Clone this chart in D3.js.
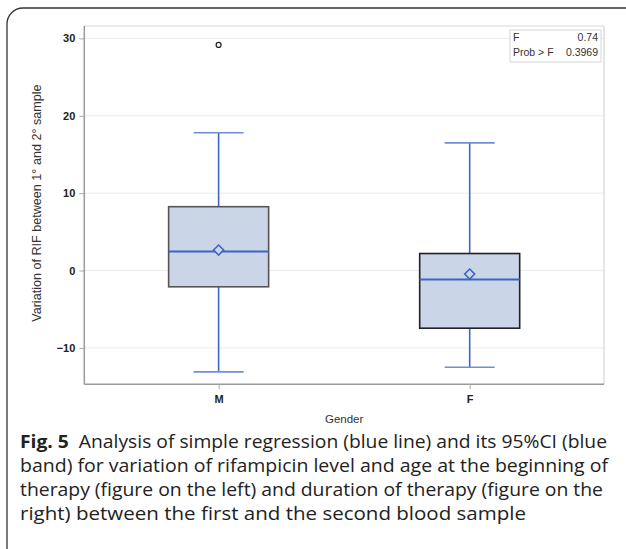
<!DOCTYPE html>
<html><head><meta charset="utf-8">
<script src="https://cdn.jsdelivr.net/npm/d3@7/dist/d3.min.js"></script>
<style>body{margin:0;background:#fff}svg{display:block}</style>
</head><body>
<svg id="c" width="626" height="549"></svg>
<script>
const categories = ["M", "F"];
const whiskerLow = [-13.1, -12.5];
const q1 = [-2.1, -7.45];
const median = [2.45, -1.15];
const q3 = [8.25, 2.2];
const whiskerHigh = [17.8, 16.5];
const means = [2.65, -0.45];
const outliers = [{cat: "M", v: 29.15}];
const yTicks = [-10, 0, 10, 20, 30];
const statLabels = ["F", "Prob > F"];
const statValues = ["0.74", "0.3969"];
const captionLines = [
  ["Fig. 5", "  Analysis of simple regression (blue line) and its 95%CI (blue"],
  ["", "band) for variation of rifampicin level and age at the beginning of"],
  ["", "therapy (figure on the left) and duration of therapy (figure on the"],
  ["", "right) between the first and the second blood sample"]
];
const captionWidths = [587, 588, 583, 506];

const svg = d3.select("#c");
const L = 84.3, R = 604, T = 26, B = 384.3;

// outer frame
svg.append("rect").attr("x", 7).attr("y", 8).attr("width", 720).attr("height", 560)
  .attr("rx", 16).attr("fill", "none").attr("stroke", "#333").attr("stroke-width", 1.3);

const y = d3.scaleLinear().domain([-14.7, 31.6]).range([B, T]);
const x = d3.scalePoint().domain(categories).range([L, R]).padding(0.535);

// gridlines
svg.append("g").selectAll("line").data(yTicks).join("line")
  .attr("x1", L).attr("x2", R).attr("y1", d => y(d)).attr("y2", d => y(d))
  .attr("stroke", "#ebebeb").attr("stroke-width", 1);

// frame of plot
svg.append("line").attr("x1", L).attr("x2", R).attr("y1", T).attr("y2", T).attr("stroke", "#d8d8d8");
svg.append("line").attr("x1", R).attr("x2", R).attr("y1", T).attr("y2", B).attr("stroke", "#d8d8d8").attr("stroke-width", 1.3);

// axes
const yAxis = svg.append("g").attr("transform", `translate(${L},0)`)
  .call(d3.axisLeft(y).tickValues(yTicks).tickSize(5).tickPadding(4));
const xAxis = svg.append("g").attr("transform", `translate(0,${B})`)
  .call(d3.axisBottom(x).tickSize(5).tickPadding(6));
[yAxis, xAxis].forEach(a => {
  a.select(".domain").attr("stroke", "#9a9a9a").attr("stroke-width", 1.5);
  a.selectAll(".tick line").attr("stroke", "#aaa");
  a.selectAll(".tick text").attr("fill", "#222").attr("font-family", "Liberation Sans, Arial, sans-serif")
    .attr("font-size", 11).attr("font-weight", "bold");
});
yAxis.select(".domain").attr("d", `M0,${T}V${B}`);
xAxis.select(".domain").attr("d", `M${L},0H${R}`);

const boxW = 100, capW = 50;
const g = svg.append("g");
categories.forEach((c, i) => {
  const cx = x(c);
  g.append("line").attr("x1", cx).attr("x2", cx).attr("y1", y(whiskerHigh[i])).attr("y2", y(q3[i]))
    .attr("stroke", "#3f64c2").attr("stroke-width", 1.6);
  g.append("line").attr("x1", cx).attr("x2", cx).attr("y1", y(q1[i])).attr("y2", y(whiskerLow[i]))
    .attr("stroke", "#3f64c2").attr("stroke-width", 1.6);
  [whiskerHigh[i], whiskerLow[i]].forEach(v => {
    g.append("line").attr("x1", cx - capW / 2).attr("x2", cx + capW / 2).attr("y1", y(v)).attr("y2", y(v))
      .attr("stroke", "#6f8fd6").attr("stroke-width", 1.6);
  });
  g.append("rect").attr("x", cx - boxW / 2).attr("width", boxW)
    .attr("y", y(q3[i])).attr("height", y(q1[i]) - y(q3[i]))
    .attr("fill", "#cad5e8").attr("stroke", i === 0 ? "#555" : "#222").attr("stroke-width", 1.6);
  g.append("line").attr("x1", cx - boxW / 2).attr("x2", cx + boxW / 2).attr("y1", y(median[i])).attr("y2", y(median[i]))
    .attr("stroke", "#3f64c2").attr("stroke-width", 2);
  const my = y(means[i]), s = 5;
  g.append("path").attr("d", `M${cx},${my - s}L${cx + s},${my}L${cx},${my + s}L${cx - s},${my}Z`)
    .attr("fill", "#cad5e8").attr("stroke", "#3f64c2").attr("stroke-width", 1.6);
});
outliers.forEach(o => {
  g.append("circle").attr("cx", x(o.cat)).attr("cy", y(o.v)).attr("r", 2.5)
    .attr("fill", "none").attr("stroke", "#222").attr("stroke-width", 1.2);
});

// stats inset
const ins = svg.append("g");
ins.append("rect").attr("x", 510).attr("y", 30).attr("width", 91).attr("height", 32)
  .attr("fill", "#fff").attr("stroke", "#d6d6d6");
statLabels.forEach((t, i) => {
  ins.append("text").attr("x", 513).attr("y", 41 + i * 15).text(t)
    .attr("font-family", "Liberation Sans, Arial, sans-serif").attr("font-size", 10.5).attr("fill", "#333");
  ins.append("text").attr("x", 598).attr("y", 41 + i * 15).attr("text-anchor", "end").text(statValues[i])
    .attr("font-family", "Liberation Sans, Arial, sans-serif").attr("font-size", 10.5).attr("fill", "#333");
});

// axis titles
svg.append("text").attr("transform", `translate(41,${(T + B) / 2 - 2}) rotate(-90)`).attr("text-anchor", "middle")
  .attr("font-family", "Liberation Sans, Arial, sans-serif").attr("font-size", 12.6).attr("fill", "#333")
  .text("Variation of RIF between 1° and 2° sample");
svg.append("text").attr("x", (L + R) / 2).attr("y", 423).attr("text-anchor", "middle")
  .attr("font-family", "Liberation Sans, Arial, sans-serif").attr("font-size", 11.5).attr("fill", "#333")
  .text("Gender");

// caption
const cap = svg.append("g").attr("font-family", "Open Sans, sans-serif").attr("font-size", 17.4).attr("fill", "#222");
captionLines.forEach((ln, i) => {
  const t = cap.append("text").attr("x", 20).attr("y", 448 + i * 24)
    .attr("textLength", captionWidths[i]).attr("lengthAdjust", "spacingAndGlyphs");
  if (ln[0]) t.append("tspan").attr("font-weight", "bold").text(ln[0]);
  t.append("tspan").attr("xml:space", "preserve").style("white-space", "pre").text(ln[1]);
});
</script>
</body></html>
